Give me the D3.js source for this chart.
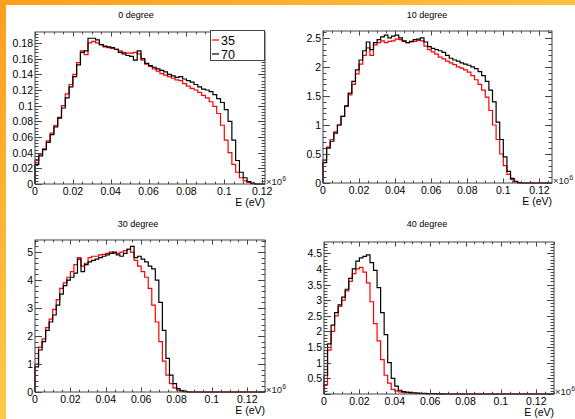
<!DOCTYPE html>
<html>
<head>
<meta charset="utf-8">
<script src="https://cdn.jsdelivr.net/npm/d3@7"></script>
<style>
  html, body { margin: 0; padding: 0; background: #fff; }
  svg { display: block; font-family: "Liberation Sans", Arial, sans-serif; }
</style>
</head>
<body>
<div id="chart"></div>
<script>
// histogram bin width (in units of 10^6 eV)
const binWidth = 0.002;

// 0 degree
const deg0_35 = [0.03, 0.038, 0.045, 0.055, 0.065, 0.075, 0.085, 0.1, 0.115, 0.127, 0.14, 0.155, 0.17, 0.165, 0.18, 0.182, 0.18, 0.178, 0.175, 0.174,
  0.173, 0.172, 0.17, 0.168, 0.167, 0.167, 0.168, 0.166, 0.158, 0.153, 0.15, 0.147, 0.144, 0.141, 0.139, 0.137, 0.135, 0.133, 0.132, 0.128,
  0.125, 0.122, 0.12, 0.117, 0.113, 0.11, 0.105, 0.099, 0.09, 0.075, 0.056, 0.04, 0.025, 0.015, 0.008, 0.004, 0.002, 0.0005, 0, 0];
const deg0_70 = [0.025, 0.036, 0.044, 0.053, 0.063, 0.073, 0.084, 0.097, 0.11, 0.124, 0.137, 0.152, 0.168, 0.17, 0.186, 0.186, 0.184, 0.178, 0.176, 0.175,
  0.174, 0.172, 0.168, 0.166, 0.164, 0.163, 0.158, 0.17, 0.16, 0.154, 0.151, 0.149, 0.147, 0.145, 0.143, 0.14, 0.138, 0.136, 0.137, 0.134,
  0.132, 0.13, 0.127, 0.124, 0.121, 0.12, 0.118, 0.114, 0.109, 0.104, 0.095, 0.08, 0.056, 0.03, 0.015, 0.008, 0.003, 0.001, 0, 0];

// 10 degree
const deg10_35 = [0.4, 0.62, 0.75, 0.88, 1.0, 1.15, 1.32, 1.52, 1.7, 1.88, 2.05, 2.2, 2.33, 2.2, 2.38, 2.42, 2.45, 2.42, 2.44, 2.45,
  2.48, 2.47, 2.44, 2.42, 2.43, 2.44, 2.46, 2.45, 2.36, 2.3, 2.26, 2.22, 2.17, 2.14, 2.1, 2.07, 2.04, 2.0, 1.98, 1.95,
  1.91, 1.85, 1.78, 1.7, 1.6, 1.48, 1.25, 1.0, 0.75, 0.5, 0.3, 0.15, 0.06, 0.02, 0, 0];
const deg10_70 = [0.35, 0.6, 0.72, 0.86, 1.0, 1.15, 1.33, 1.55, 1.75, 1.95, 2.12, 2.28, 2.43, 2.3, 2.42, 2.47, 2.52, 2.55, 2.5, 2.53,
  2.55, 2.5, 2.45, 2.42, 2.44, 2.47, 2.48, 2.5, 2.43, 2.35, 2.32, 2.3, 2.28, 2.25, 2.2, 2.15, 2.12, 2.1, 2.07, 2.05,
  2.03, 2.0, 1.97, 1.92, 1.85, 1.75, 1.6, 1.4, 1.05, 0.75, 0.45, 0.2, 0.08, 0.03, 0.005, 0];

// 30 degree
const deg30_35 = [1.0, 1.6, 1.9, 2.3, 2.6, 2.95, 3.3, 3.7, 3.9, 4.1, 4.3, 4.55, 4.8, 4.5, 4.6, 4.8, 4.85, 4.85, 4.9, 4.92,
  4.95, 5.0, 4.95, 4.95, 5.0, 5.05, 5.1, 5.0, 4.7, 4.5, 4.3, 4.1, 3.7, 3.1, 2.5, 1.8, 1.1, 0.6, 0.3, 0.15,
  0.07, 0.03, 0.01, 0, 0];
const deg30_70 = [0.9, 1.5, 1.8, 2.2, 2.5, 2.75, 3.1, 3.5, 3.8, 4.0, 4.1, 4.25, 4.75, 4.3, 4.55, 4.65, 4.7, 4.75, 4.8, 4.85,
  4.9, 4.95, 5.0, 4.9, 4.85, 4.95, 5.1, 5.2, 4.8, 4.85, 4.75, 4.65, 4.5, 4.4, 4.0, 3.2, 2.2, 1.2, 0.6, 0.3,
  0.12, 0.05, 0.02, 0, 0];

// 40 degree
const deg40_35 = [0.3, 1.4, 2.0, 2.5, 2.8, 3.0, 3.3, 3.6, 3.85, 4.0, 4.05, 3.9, 3.55, 2.95, 2.25, 1.7, 1.1, 0.6, 0.35, 0.15,
  0.1, 0.07, 0.05, 0.04, 0.03, 0.02, 0.02, 0.015, 0.01, 0.01, 0.01, 0.005, 0.005, 0.005, 0, 0];
const deg40_70 = [0.6, 1.6, 2.2, 2.6, 2.85, 3.1, 3.35, 3.7, 4.0, 4.25, 4.35, 4.4, 4.45, 4.2, 3.95, 3.4, 2.6, 1.9, 1.0, 0.5,
  0.25, 0.12, 0.08, 0.06, 0.05, 0.04, 0.03, 0.02, 0.02, 0.015, 0.01, 0.01, 0.005, 0.005, 0, 0];

const xTicks = [0, 0.02, 0.04, 0.06, 0.08, 0.1, 0.12];
const xTickLabels = ["0", "0.02", "0.04", "0.06", "0.08", "0.1", "0.12"];
const seriesNames = ["35", "70"];
const seriesColors = ["#ff0000", "#000000"];

const width = 575, height = 419;

const panels = [
  { title: "0 degree", tx: 136, ty: 18, frame: [35, 32, 265, 184], xMax: 0.1215, yMax: 0.194,
    yTicks: d3.range(0, 0.181, 0.02), yFmt: d => d === 0 ? "0" : d3.format(".2~f")(d), yMinor: 0.004,
    series: [deg0_35, deg0_70], legend: true },
  { title: "10 degree", tx: 427, ty: 18, frame: [323, 31, 552, 183], xMax: 0.127, yMax: 2.62,
    yTicks: d3.range(0, 2.51, 0.5), yFmt: d3.format("~g"), yMinor: 0.1,
    series: [deg10_35, deg10_70] },
  { title: "30 degree", tx: 138, ty: 227, frame: [35, 240, 265, 392], xMax: 0.13, yMax: 5.43,
    yTicks: d3.range(0, 5.1, 1), yFmt: d3.format("~g"), yMinor: 0.2,
    series: [deg30_35, deg30_70] },
  { title: "40 degree", tx: 427, ty: 227, frame: [324, 242, 554, 394], xMax: 0.13, yMax: 4.86,
    yTicks: d3.range(0.5, 4.51, 0.5), yFmt: d3.format("~g"), yMinor: 0.1,
    series: [deg40_35, deg40_70] }
];

const svg = d3.select("#chart").append("svg")
  .attr("width", width)
  .attr("height", height);

// orange border like the slide background
const defs = svg.append("defs");
const gl = defs.append("linearGradient").attr("id", "gl").attr("x1", 0).attr("y1", 0).attr("x2", 0).attr("y2", 1);
gl.append("stop").attr("offset", "0%").attr("stop-color", "#ff9f1c");
gl.append("stop").attr("offset", "100%").attr("stop-color", "#ffc84a");
const gt = defs.append("linearGradient").attr("id", "gt").attr("x1", 0).attr("y1", 0).attr("x2", 1).attr("y2", 0);
gt.append("stop").attr("offset", "0%").attr("stop-color", "#ff9f1c");
gt.append("stop").attr("offset", "100%").attr("stop-color", "#ffc040");

svg.append("rect").attr("width", width).attr("height", height).attr("fill", "#fff");
svg.append("rect").attr("x", 0).attr("y", 0).attr("width", width).attr("height", 5).attr("fill", "url(#gt)");
svg.append("rect").attr("x", 0).attr("y", 0).attr("width", 6).attr("height", height).attr("fill", "url(#gl)");

function drawPanel(p) {
  const [l, t, r, b] = p.frame;
  const x = d3.scaleLinear().domain([0, p.xMax]).range([l, r]);
  const y = d3.scaleLinear().domain([0, p.yMax]).range([b, t]);
  const g = svg.append("g");

  g.append("text")
    .attr("x", p.tx).attr("y", p.ty)
    .attr("text-anchor", "middle")
    .attr("font-size", 9)
    .text(p.title);

  // histograms
  const line = d3.line()
    .x(d => x(d[0]))
    .y(d => y(d[1]))
    .curve(d3.curveStepAfter);
  p.series.forEach((vals, k) => {
    const pts = [[0, 0]];
    vals.forEach((v, i) => pts.push([i * binWidth, v]));
    pts.push([vals.length * binWidth, 0]);
    pts.push([p.xMax, 0]);
    g.append("path")
      .attr("d", line(pts))
      .attr("fill", "none")
      .attr("stroke", seriesColors[k])
      .attr("stroke-width", 1.2);
  });

  // frame
  g.append("rect")
    .attr("x", l).attr("y", t)
    .attr("width", r - l).attr("height", b - t)
    .attr("fill", "none")
    .attr("stroke", "#444")
    .attr("stroke-width", 1);

  const xMajLen = 0.03 * (b - t), yMajLen = 0.03 * (r - l);

  // x axis ticks (bottom + mirrored top)
  const xMinor = d3.range(0, p.xMax + 1e-9, 0.005);
  const xg = g.append("g").attr("stroke", "#444").attr("stroke-width", 1);
  xMinor.forEach(v => {
    const major = Math.abs(v / 0.02 - Math.round(v / 0.02)) < 1e-6;
    const len = major ? xMajLen : xMajLen / 2;
    const px = Math.round(x(v)) + 0.5;
    xg.append("line").attr("x1", px).attr("x2", px).attr("y1", b).attr("y2", b - len);
    xg.append("line").attr("x1", px).attr("x2", px).attr("y1", t).attr("y2", t + len);
  });

  // y axis ticks (left + mirrored right)
  const yg = g.append("g").attr("stroke", "#444").attr("stroke-width", 1);
  const majStep = p.yTicks[1] - p.yTicks[0];
  d3.range(0, p.yMax + 1e-9, p.yMinor).forEach(v => {
    const major = Math.abs(v / majStep - Math.round(v / majStep)) < 1e-6;
    const len = major ? yMajLen : yMajLen / 2;
    const py = Math.round(y(v)) + 0.5;
    yg.append("line").attr("x1", l).attr("x2", l + len).attr("y1", py).attr("y2", py);
    yg.append("line").attr("x1", r).attr("x2", r - len).attr("y1", py).attr("y2", py);
  });

  // tick labels
  g.selectAll(".xl").data(xTicks.filter(v => v <= p.xMax + 1e-9)).enter()
    .append("text")
    .attr("x", d => x(d)).attr("y", b + 11)
    .attr("text-anchor", "middle")
    .attr("font-size", 10.5)
    .text((d, i) => xTickLabels[i]);

  g.selectAll(".yl").data(p.yTicks).enter()
    .append("text")
    .attr("x", l - 2).attr("y", d => y(d) + 4)
    .attr("text-anchor", "end")
    .attr("font-size", 10.5)
    .text(p.yFmt);

  // exponent and axis title
  const ex = g.append("text").attr("x", r + 1).attr("y", b + 1).attr("font-size", 9.5).attr("fill", "#222");
  ex.append("tspan").text("\u00d710");
  ex.append("tspan").attr("dy", -4).attr("font-size", 7).text("6");

  g.append("text")
    .attr("x", r).attr("y", b + 22)
    .attr("text-anchor", "end")
    .attr("font-size", 10.5)
    .text("E (eV)");

  if (p.legend) {
    const lg = g.append("g");
    lg.append("rect")
      .attr("x", 210.5).attr("y", 30.5).attr("width", 54).attr("height", 30)
      .attr("fill", "#fff").attr("stroke", "#444");
    seriesNames.forEach((name, k) => {
      const cy = 40 + k * 14;
      lg.append("line").attr("x1", 212).attr("x2", 219).attr("y1", cy).attr("y2", cy)
        .attr("stroke", seriesColors[k]).attr("stroke-width", 1.2);
      lg.append("text").attr("x", 221).attr("y", cy + 4.5)
        .attr("font-size", 12.5).text(name);
    });
  }
}

panels.forEach(drawPanel);
</script>
</body>
</html>
